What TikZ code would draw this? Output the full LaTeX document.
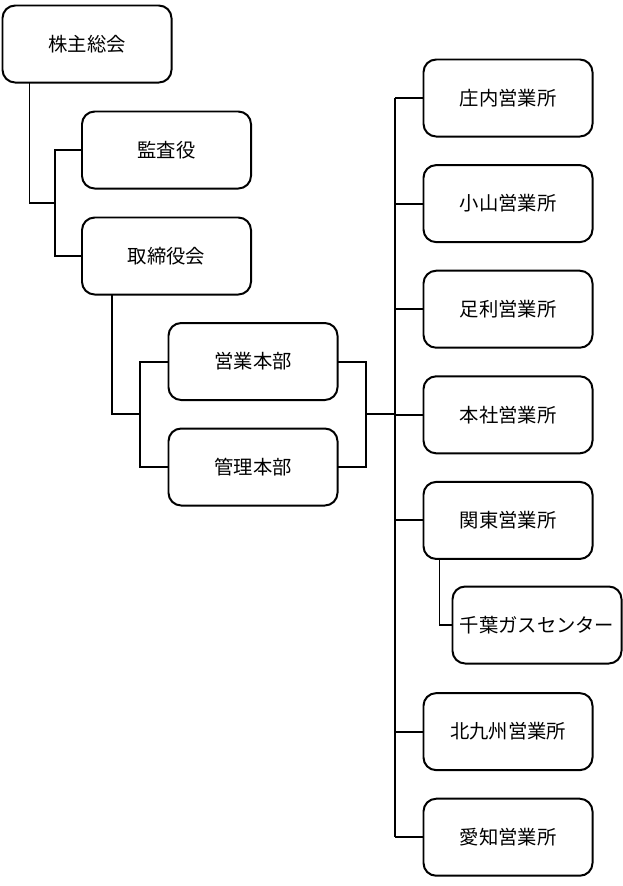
\documentclass[tikz,border=0pt]{standalone}
\usepackage{fontspec}
\newfontfamily\jpfont{Noto Sans CJK JP}
\usepackage{tikz}
\usetikzlibrary{positioning}
\tikzset{
    unit/.style={
        rectangle, rounded corners=0.38cm, minimum width=5.07cm, minimum height=2.31cm, outer sep=0pt, text centered, draw=black, line width=1.7pt, font=\jpfont\fontsize{16.5}{19}\selectfont
    },
    link/.style={
        line width=1.7pt
    }
}
\begin{document}
\begin{tikzpicture}[x=0.03cm, y=-0.03cm]
    \useasboundingbox (0,0) rectangle (623,886);

    % Top management
    \node[unit] (soukai) at (87,44) {株主総会};
    \node[unit] (kansa) at (166.5,150) {監査役};
    \node[unit] (torishimari) at (166.5,256) {取締役会};

    % Head offices
    \node[unit] (eigyo) at (253,361.5) {営業本部};
    \node[unit] (kanri) at (253,467) {管理本部};

    % Branch offices
    \node[unit] (shonai) at (508,98) {庄内営業所};
    \node[unit, below=0.858cm of shonai] (oyama) {小山営業所};
    \node[unit, below=0.858cm of oyama] (ashikaga) {足利営業所};
    \node[unit, below=0.858cm of ashikaga] (honsha) {本社営業所};
    \node[unit, below=0.858cm of honsha] (kanto) {関東営業所};
    \node[unit] (chiba) at (537,625) {千葉ガスセンター};
    \node[unit, below=4.026cm of kanto] (kitakyushu) {北九州営業所};
    \node[unit, below=0.858cm of kitakyushu] (aichi) {愛知営業所};

    % Joints
    \coordinate (j1) at (55,203);
    \coordinate (j2) at (140,414);
    \coordinate (j3) at (366,414);
    \coordinate (trunk) at (395,414);

    % Relationships
    \draw[link] ([xshift=0.81cm]soukai.south west) |- (j1);
    \draw[link] (kansa.west) -| (j1) |- (torishimari.west);
    \draw[link] ([xshift=0.9cm]torishimari.south west) |- (j2);
    \draw[link] (eigyo.west) -| (j2) |- (kanri.west);
    \draw[link] (eigyo.east) -| (j3) |- (kanri.east);
    \draw[link] (j3) -- (trunk);
    \draw[link] (shonai.west -| trunk) -- (aichi.west -| trunk);
    \foreach \office in {shonai, oyama, ashikaga, honsha, kanto, kitakyushu, aichi}
        \draw[link] (\office.west) -- (\office.west -| trunk);
    \draw[link] ([xshift=0.48cm]kanto.south west) |- (chiba.west);

\end{tikzpicture}
\end{document}
